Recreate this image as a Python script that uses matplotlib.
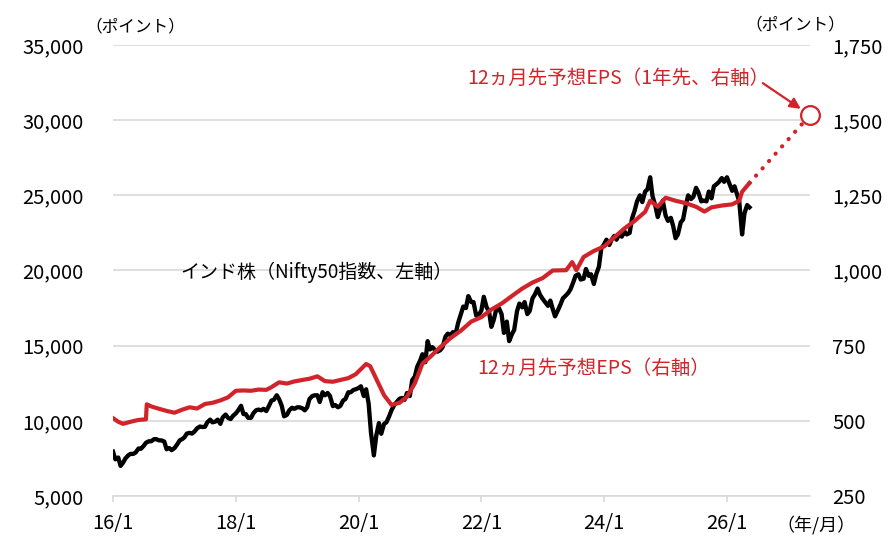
import matplotlib
matplotlib.use("Agg")
import matplotlib.pyplot as plt
import pandas as pd

# インド株（Nifty50指数）半月ごと 2016/1/1 〜 2026/5/15
nifty_dates = pd.date_range("2016-01-01", "2026-05-15", freq="SMS")
nifty = [
    # 2016
    7950, 7440, 7560, 7000, 7220, 7500, 7710, 7800, 7800, 7900, 8160, 8140,
    8330, 8540, 8640, 8640, 8780, 8780, 8700, 8700, 8620, 8110, 8190, 8050,
    # 2017
    8190, 8400, 8700, 8780, 8900, 9150, 9200, 9150, 9300, 9500, 9620, 9590,
    9600, 9900, 10080, 9900, 9950, 10080, 9800, 10230, 10420, 10200, 10120, 10330,
    # 2018
    10500, 10700, 11000, 10450, 10450, 10200, 10200, 10500, 10700, 10750, 10700, 10800,
    10650, 10950, 11350, 11400, 11700, 11450, 11000, 10300, 10400, 10700, 10870, 10800,
    # 2019
    10900, 10900, 10830, 10700, 10900, 11450, 11650, 11700, 11700, 11250, 11900, 11700,
    11850, 11650, 10980, 11050, 10900, 11000, 11350, 11450, 11900, 11900, 12050, 12100,
    # 2020
    12180, 12300, 11650, 12100, 11150, 9200, 7700, 8990, 9850, 9140, 9800, 9900,
    10300, 10700, 11070, 11250, 11470, 11520, 11400, 11850, 11650, 12700, 12950, 13600,
    # 2021
    14000, 14430, 13900, 15300, 14750, 14900, 14700, 14600, 14700, 14900, 15600, 15800,
    15700, 15900, 15800, 16500, 17100, 17600, 17500, 18300, 17900, 17900, 17000, 17000,
    # 2022
    17350, 18250, 17550, 17300, 16250, 16700, 17500, 17500, 17100, 15850, 16600, 15300,
    15750, 16050, 17300, 17800, 17550, 17900, 17100, 17300, 18150, 18400, 18800, 18400,
    # 2023
    18100, 17900, 17650, 18000, 17450, 16950, 17350, 17700, 18150, 18300, 18500, 18750,
    19200, 19650, 19750, 19400, 19450, 20100, 19650, 19750, 19100, 19750, 20250, 21450,
    # 2024
    21750, 22050, 21700, 22050, 22300, 22050, 22450, 22250, 22600, 22400, 22500, 23450,
    24000, 24600, 25000, 24550, 25250, 25400, 26200, 24950, 24300, 23550, 24150, 24650,
    # 2025
    23650, 23300, 23500, 22950, 22150, 22400, 23200, 23400, 24350, 25000, 24750, 24900,
    25500, 25200, 24600, 24650, 24600, 25250, 24800, 25600, 25750, 25900, 26150, 25900,
    # 2026
    26200, 25800, 25300, 25600, 25100, 24600, 22400, 23800, 24350, 24200,
]

# 12ヵ月先予想EPS（右軸）
eps_dates = pd.to_datetime([
    "2016-01-01", "2016-02-01", "2016-03-01", "2016-04-15", "2016-06-01",
    "2016-07-15", "2016-07-20", "2016-08-15", "2016-10-01", "2016-11-15",
    "2017-01-01", "2017-02-15", "2017-04-01", "2017-05-15", "2017-07-01",
    "2017-08-15", "2017-10-01", "2017-11-15", "2018-01-01", "2018-02-15",
    "2018-04-01", "2018-05-15", "2018-07-01", "2018-08-01", "2018-09-15",
    "2018-11-01", "2018-12-15", "2019-02-01", "2019-03-15", "2019-05-01",
    "2019-06-15", "2019-08-01", "2019-09-15", "2019-11-01", "2019-12-15",
    "2020-02-15", "2020-03-10", "2020-04-15", "2020-06-01", "2020-07-15",
    "2020-09-01", "2020-10-15", "2020-12-01", "2021-01-15", "2021-03-01",
    "2021-05-01", "2021-07-01", "2021-09-01", "2021-11-01", "2022-01-01",
    "2022-03-01", "2022-05-01", "2022-07-01", "2022-09-01", "2022-11-01",
    "2023-01-01", "2023-03-01", "2023-05-20", "2023-06-25", "2023-07-20",
    "2023-09-01", "2023-11-01", "2024-01-01", "2024-03-01", "2024-05-01",
    "2024-07-01", "2024-09-01", "2024-10-01", "2024-11-15", "2025-01-01",
    "2025-03-01", "2025-05-01", "2025-07-01", "2025-08-20", "2025-10-01",
    "2025-12-01", "2026-02-01", "2026-03-15", "2026-04-01", "2026-05-15",
])
eps = [
    509, 497, 490, 497, 503,
    505, 555, 548, 540, 533,
    527, 537, 545, 541, 556,
    560, 568, 578, 600, 601,
    600, 604, 603, 612, 628,
    624, 631, 636, 640, 648,
    632, 630, 636, 642, 655,
    689, 682, 640, 585, 553,
    560, 580, 625, 690, 712,
    745, 775, 800, 830, 845,
    870, 890, 915, 940, 960,
    975, 1000, 1001, 1028, 1001,
    1045, 1065, 1080, 1110, 1140,
    1165, 1195, 1232, 1212, 1242,
    1232, 1224, 1212, 1196, 1210,
    1216, 1220, 1232, 1262, 1291,
]

# 1年先の予想
fc_date = pd.Timestamp("2027-05-10")
fc_eps = 1517

x_ticks = pd.to_datetime(["2016-01-01", "2018-01-01", "2020-01-01",
                          "2022-01-01", "2024-01-01", "2026-01-01"])
x_labels = ["16/1", "18/1", "20/1", "22/1", "24/1", "26/1"]
left_ticks = [5000, 10000, 15000, 20000, 25000, 30000, 35000]
right_ticks = [250, 500, 750, 1000, 1250, 1500, 1750]

RED = "#D2232A"
GRID = "#D9D9D9"

plt.rcParams["font.family"] = ["Noto Sans CJK JP", "DejaVu Sans"]

fig = plt.figure(figsize=(8.96, 5.6), dpi=100)
ax = fig.add_axes([113 / 896, 64 / 560, 697 / 896, 451 / 560])
ax2 = ax.twinx()

ax.plot(nifty_dates, nifty, color="black", lw=3.1, solid_joinstyle="round")
ax2.plot(eps_dates, eps, color=RED, lw=3.0, solid_joinstyle="round")
ax2.plot([eps_dates[-1], fc_date], [eps[-1], fc_eps], color=RED, lw=3.0,
         ls=(0, (0.05, 2.3)), dash_capstyle="round")
ax2.plot([fc_date], [fc_eps], marker="o", ms=13.5, mfc="white", mec=RED,
         mew=1.6, clip_on=False, zorder=5)

ax.set_xlim(pd.Timestamp("2016-01-01"), pd.Timestamp("2027-05-10"))
ax.set_ylim(5000, 35000)
ax2.set_ylim(250, 1750)

ax.set_yticks(left_ticks)
ax.set_yticklabels([f"{v:,}" for v in left_ticks])
ax2.set_yticks(right_ticks)
ax2.set_yticklabels([f"{v:,}" for v in right_ticks])
ax.set_xticks(x_ticks)
ax.set_xticklabels(x_labels)

ax.yaxis.grid(True, color=GRID, lw=1.2)
ax.set_axisbelow(True)
for s in ["top", "left", "right"]:
    ax.spines[s].set_visible(False)
for s in ax2.spines.values():
    s.set_visible(False)
ax.spines["bottom"].set_color(GRID)
ax.spines["bottom"].set_linewidth(1.2)

ax.tick_params(axis="y", length=0, pad=21, labelsize=14.5)
ax2.tick_params(axis="y", length=0, pad=16, labelsize=14.5)
ax.tick_params(axis="x", length=4, width=1.2, color=GRID, pad=8, labelsize=14.5)

fig.text(0.151, 0.952, "（ポイント）", ha="center", va="center", fontsize=12)
fig.text(0.887, 0.955, "（ポイント）", ha="center", va="center", fontsize=12)
fig.text(0.911, 0.0625, "（年/月）", ha="center", va="center", fontsize=13)

ax.text(0.096, 0.495, "インド株（Nifty50指数、左軸）", transform=ax.transAxes,
        ha="left", va="center", fontsize=13.7, color="black")
ax.text(0.522, 0.284, "12ヵ月先予想EPS（右軸）", transform=ax.transAxes,
        ha="left", va="center", fontsize=14, color=RED)

ax2.annotate("12ヵ月先予想EPS（1年先、右軸）", xy=(fc_date, fc_eps),
             xytext=(-29, 26.6), textcoords="offset points",
             ha="right", va="center", fontsize=14, color=RED,
             annotation_clip=False)
ax2.annotate("", xy=(fc_date, fc_eps), xytext=(-34, 23),
             textcoords="offset points", annotation_clip=False,
             arrowprops=dict(arrowstyle="-|>", color=RED, lw=1.6,
                             shrinkA=0, shrinkB=8, mutation_scale=16))

fig.savefig("out.png", dpi=100)
